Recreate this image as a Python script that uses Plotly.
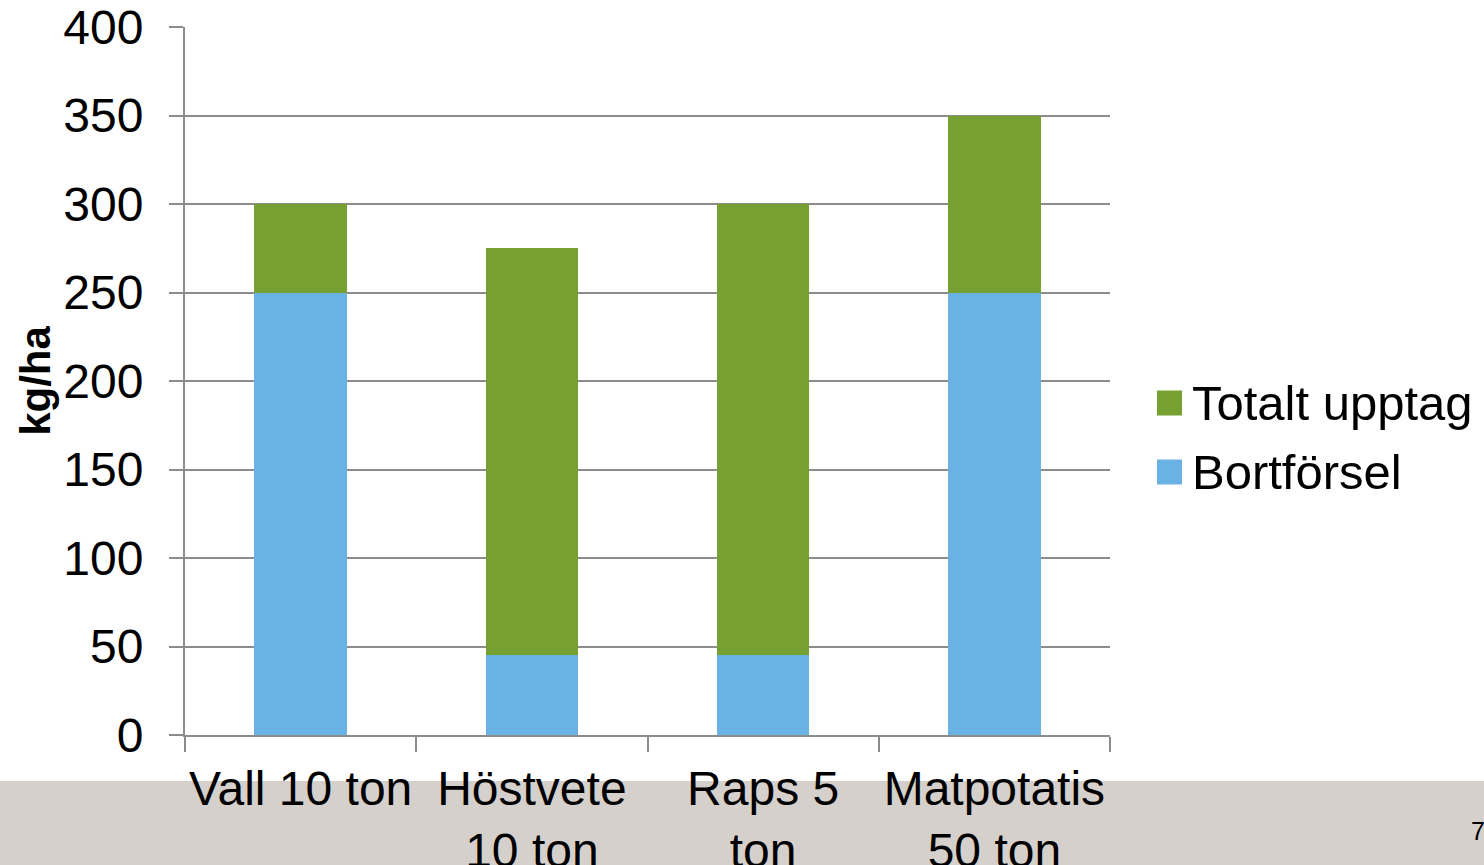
import plotly.graph_objects as go

# Kväve: bortförsel och totalt upptag per gröda (kg/ha)
categories = ["Vall 10 ton", "Höstvete<br>10 ton", "Raps 5<br>ton", "Matpotatis<br>50 ton"]
bortforsel = [250, 45, 45, 250]
totalt_upptag = [300, 275, 300, 350]
# the green segment sits on top of the blue one, up to the total
rest = [t - b for t, b in zip(totalt_upptag, bortforsel)]

y_ticks = [0, 50, 100, 150, 200, 250, 300, 350, 400]

BLUE = "#6AB2E4"
GREEN = "#77A033"
GRID = "#8C8C8C"
FONT = "Liberation Sans, Arial, sans-serif"
FS = 48

fig = go.Figure()
fig.add_trace(go.Bar(name="Bortförsel", x=categories, y=bortforsel,
                     marker=dict(color=BLUE, line=dict(width=0)), showlegend=False))
fig.add_trace(go.Bar(name="Totalt upptag", x=categories, y=rest,
                     marker=dict(color=GREEN, line=dict(width=0)), showlegend=False))

W, H = 1484, 865
L, R, T, B = 185, 374, 27, 130
pw, ph = W - L - R, H - T - B


def px_x(x):
    return (x - L) / pw


def px_y(y):
    return (H - B - y) / ph


shapes = [
    # grey footer band
    dict(type="rect", xref="paper", yref="paper",
         x0=px_x(-5), x1=px_x(W + 5), y0=px_y(781), y1=px_y(H + 5),
         fillcolor="#D5D0CB", line=dict(width=0), layer="below"),
]
annotations = []

# legend entries
legend_items = [("Totalt upptag", GREEN, 403), ("Bortförsel", BLUE, 472)]
for label, color, cy in legend_items:
    shapes.append(dict(type="rect", xref="paper", yref="paper",
                       x0=px_x(1157), x1=px_x(1182), y0=px_y(cy + 12.5), y1=px_y(cy - 12.5),
                       fillcolor=color, line=dict(width=0)))
    annotations.append(dict(text=label, xref="paper", yref="paper",
                            x=px_x(1190), y=px_y(cy), xanchor="left", yanchor="middle",
                            showarrow=False, font=dict(size=49, color="#000000", family=FONT)))

# page number
annotations.append(dict(text="7", xref="paper", yref="paper",
                        x=px_x(1469), y=px_y(831), xanchor="left", yanchor="middle",
                        showarrow=False, font=dict(size=25, color="#000000", family=FONT)))

fig.update_layout(
    width=W, height=H,
    margin=dict(l=L, r=R, t=T, b=B, pad=0),
    barmode="stack",
    bargap=0.6,
    plot_bgcolor="#FFFFFF",
    paper_bgcolor="#FFFFFF",
    font=dict(family=FONT, size=FS, color="#000000"),
    showlegend=False,
    shapes=shapes,
    annotations=annotations,
)

fig.update_xaxes(
    type="category",
    automargin=False,
    tickangle=0,
    tickson="boundaries",
    ticks="outside", ticklen=15, tickwidth=2, tickcolor=GRID,
    showline=True, linecolor=GRID, linewidth=2,
    showgrid=False,
    tickfont=dict(size=FS, family=FONT, color="#000000"),
    ticklabelstandoff=10,
)

fig.update_yaxes(
    range=[0, 400],
    automargin=False,
    tickvals=y_ticks,
    ticktext=[str(v) for v in y_ticks],
    ticks="outside", ticklen=14, tickwidth=2, tickcolor=GRID,
    showline=True, linecolor=GRID, linewidth=2,
    showgrid=True, gridcolor=GRID, gridwidth=2,
    zeroline=False,
    tickfont=dict(size=FS, family=FONT, color="#000000"),
    ticklabelstandoff=16,
    title=dict(text="<b>kg/ha</b>", font=dict(size=42, family=FONT, color="#000000"), standoff=0),
)

fig.write_html("out.html")
